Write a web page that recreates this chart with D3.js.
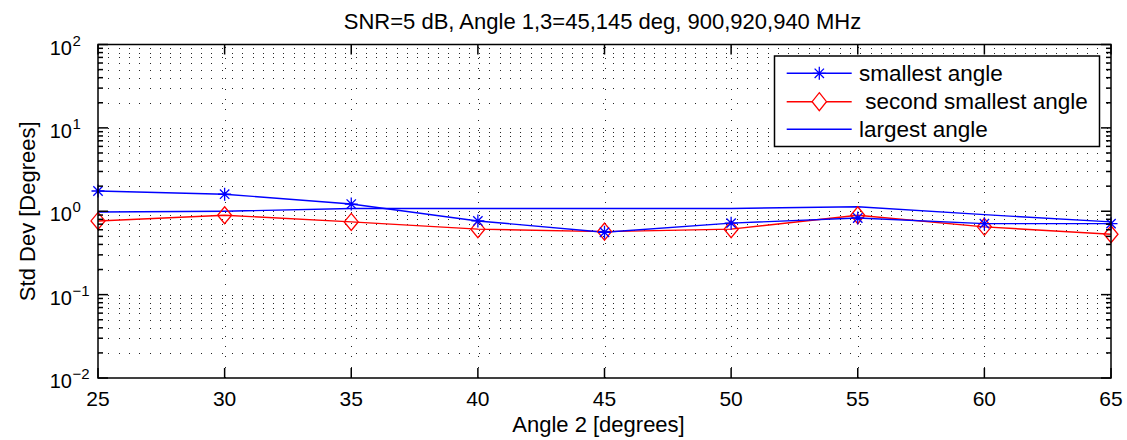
<!DOCTYPE html>
<html>
<head>
<meta charset="utf-8">
<script src="https://cdn.jsdelivr.net/npm/d3@7"></script>
<style>
  html, body { margin: 0; padding: 0; background: #fff; }
  svg { display: block; font-family: "Liberation Sans", Arial, Helvetica, sans-serif; }
</style>
</head>
<body>
<svg id="chart" width="1127" height="440"></svg>
<script>
// ---- data ----
const angles = [25, 30, 35, 40, 45, 50, 55, 60, 65];
const smallestAngle = [1.75, 1.6, 1.22, 0.765, 0.56, 0.72, 0.83, 0.71, 0.71];
const secondSmallestAngle = [0.765, 0.895, 0.745, 0.61, 0.57, 0.61, 0.895, 0.65, 0.53];
const largestAngle = [0.98, 1.0, 1.08, 1.08, 1.08, 1.08, 1.13, 0.91, 0.745];
const xTicks = [25, 30, 35, 40, 45, 50, 55, 60, 65];
const yTickExponents = [-2, -1, 0, 1, 2];
const seriesNames = ["smallest angle", " second smallest angle", "largest angle"];
const titleText = "SNR=5 dB, Angle 1,3=45,145 deg, 900,920,940 MHz";
const xLabelText = "Angle 2 [degrees]";
const yLabelText = "Std Dev [Degrees]";

// ---- layout ----
const L = 98, R = 1111, T = 44.5, B = 378;
const svg = d3.select("#chart");
const x = d3.scaleLinear().domain([25, 65]).range([L, R]);
const y = d3.scaleLog().domain([0.01, 100]).range([B, T]);

// grid
const minorVals = [];
for (let e = -2; e < 2; e++) for (let m = 1; m <= 9; m++) minorVals.push(m * Math.pow(10, e));
minorVals.push(100);
const grid = svg.append("g").attr("stroke", "#000").attr("stroke-width", 1)
  .attr("stroke-dasharray", "1,9.3").attr("shape-rendering", "crispEdges").attr("opacity", 0.85);
grid.selectAll("line.h").data(minorVals.filter(v => v > 0.01 && v < 100)).enter().append("line")
  .attr("x1", L).attr("x2", R).attr("y1", d => Math.round(y(d)) + 0.5).attr("y2", d => Math.round(y(d)) + 0.5);
grid.selectAll("line.v").data(xTicks.slice(1, -1)).enter().append("line")
  .attr("y1", B).attr("y2", T).attr("x1", d => Math.round(x(d)) + 0.5).attr("x2", d => Math.round(x(d)) + 0.5);

// series
const line = d3.line().x((d, i) => x(angles[i])).y(d => y(d));
const blue = "#0000ff", red = "#ff0000";
const plot = svg.append("g");
plot.append("path").datum(largestAngle).attr("d", line).attr("fill", "none").attr("stroke", blue).attr("stroke-width", 1.4);
plot.append("path").datum(secondSmallestAngle).attr("d", line).attr("fill", "none").attr("stroke", red).attr("stroke-width", 1.4);
plot.append("path").datum(smallestAngle).attr("d", line).attr("fill", "none").attr("stroke", blue).attr("stroke-width", 1.4);

function star(g, cx, cy) {
  const r = 6.5, d = r * 0.72;
  const p = `M${cx - r},${cy}L${cx + r},${cy}M${cx},${cy - r}L${cx},${cy + r}M${cx - d},${cy - d}L${cx + d},${cy + d}M${cx - d},${cy + d}L${cx + d},${cy - d}`;
  g.append("path").attr("d", p).attr("stroke", blue).attr("stroke-width", 1.3).attr("fill", "none");
}
function diamond(g, cx, cy) {
  const w = 7, h = 8.5;
  g.append("path").attr("d", `M${cx},${cy - h}L${cx + w},${cy}L${cx},${cy + h}L${cx - w},${cy}Z`)
    .attr("stroke", red).attr("stroke-width", 1.3).attr("fill", "none");
}
secondSmallestAngle.forEach((v, i) => diamond(plot, x(angles[i]), y(v)));
smallestAngle.forEach((v, i) => star(plot, x(angles[i]), y(v)));

// axes box and ticks
const ax = svg.append("g").attr("stroke", "#000").attr("stroke-width", 1.5).attr("fill", "none");
ax.append("rect").attr("x", L).attr("y", T).attr("width", R - L).attr("height", B - T);
xTicks.forEach(t => {
  ax.append("line").attr("x1", x(t)).attr("x2", x(t)).attr("y1", B).attr("y2", B - 10);
  ax.append("line").attr("x1", x(t)).attr("x2", x(t)).attr("y1", T).attr("y2", T + 10);
});
minorVals.forEach(v => {
  const isMajor = Math.abs(Math.log10(v) - Math.round(Math.log10(v))) < 1e-9;
  const len = isMajor ? 10 : 5;
  ax.append("line").attr("x1", L).attr("x2", L + len).attr("y1", y(v)).attr("y2", y(v));
  ax.append("line").attr("x1", R).attr("x2", R - len).attr("y1", y(v)).attr("y2", y(v));
});

// tick labels
const tl = svg.append("g").attr("fill", "#000");
xTicks.forEach(t => {
  tl.append("text").attr("x", x(t)).attr("y", B + 28).attr("text-anchor", "middle")
    .attr("font-size", 21).text(t);
});
yTickExponents.forEach(e => {
  const yy = y(Math.pow(10, e));
  tl.append("text").attr("x", 72).attr("y", yy + 10).attr("text-anchor", "end").attr("font-size", 20).text("10");
  tl.append("text").attr("x", 72.5).attr("y", yy + 1).attr("font-size", 15)
    .text(e < 0 ? "\u2212" + Math.abs(e) : String(e));
});

// titles
svg.append("text").attr("x", (L + R) / 2 - 2).attr("y", 29).attr("text-anchor", "middle")
  .attr("font-size", 22).text(titleText);
svg.append("text").attr("x", (L + R) / 2 - 6).attr("y", 432).attr("text-anchor", "middle")
  .attr("font-size", 22).text(xLabelText);
svg.append("text").attr("transform", `translate(35,${(T + B) / 2}) rotate(-90)`).attr("text-anchor", "middle")
  .attr("font-size", 22).text(yLabelText);

// legend
const lg = svg.append("g");
lg.append("rect").attr("x", 774.5).attr("y", 56).attr("width", 325).attr("height", 90.5)
  .attr("fill", "#fff").attr("stroke", "#000").attr("stroke-width", 1.5);
const rows = [73.3, 101.7, 129.3];
const colors = [blue, red, blue];
seriesNames.forEach((name, i) => {
  lg.append("line").attr("x1", 786.7).attr("x2", 851.7).attr("y1", rows[i]).attr("y2", rows[i])
    .attr("stroke", colors[i]).attr("stroke-width", 1.4);
  if (i === 0) star(lg, 819.3, rows[i]);
  if (i === 1) {
    lg.append("path").attr("d", `M819.3,${rows[i] - 9}L826.5,${rows[i]}L819.3,${rows[i] + 9}L812.1,${rows[i]}Z`)
      .attr("stroke", red).attr("stroke-width", 1.3).attr("fill", "#fff");
  }
  lg.append("text").attr("x", 859).attr("y", rows[i] + 7.5).attr("font-size", 22.5)
    .style("white-space", "pre").text(name);
});
</script>
</body>
</html>
